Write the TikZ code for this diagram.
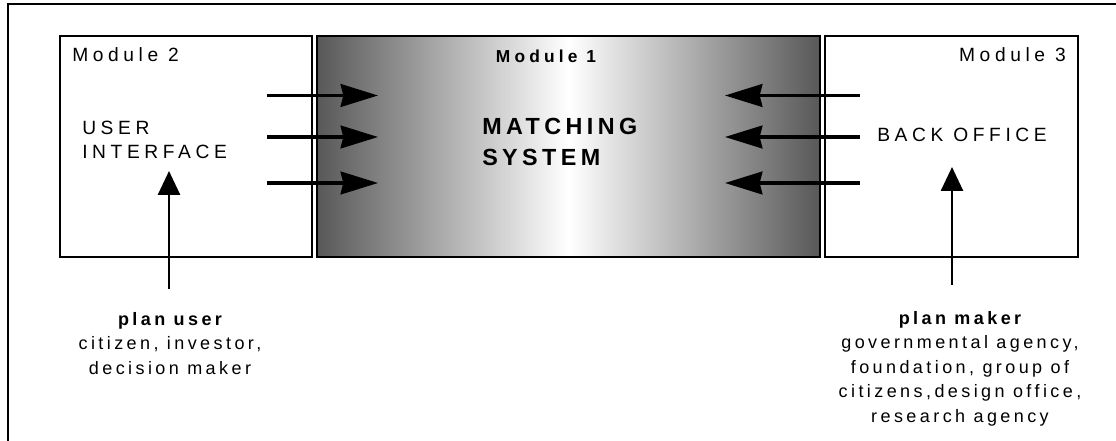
\documentclass[tikz,border=0pt]{standalone}
\usepackage{fontspec}
\setmainfont{Liberation Sans}
\newfontfamily\trackfont[LetterSpace=24]{Liberation Sans}
\newfontfamily\tightfont[LetterSpace=19]{Liberation Sans}
\usetikzlibrary{positioning, arrows.meta}
\definecolor{edgegray}{RGB}{88,88,88}

\begin{document}
\begin{tikzpicture}[
    x=0.75pt, y=-0.75pt,
    module/.style={draw, line width=1.4pt, inner sep=0pt, outer sep=0pt, minimum height=165.75pt},
    lbl/.style={inner sep=0pt, font=\trackfont\fontsize{14.4}{18.5}\selectfont},
    actor/.style={inner sep=0pt, align=center, font=\tightfont\fontsize{13.5}{18.4}\selectfont},
    big/.style={inner sep=0pt, align=left, font=\tightfont\bfseries\fontsize{17.5}{23.25}\selectfont},
    flow/.style={line width=2.6pt, -{Stealth[length=28pt, width=17pt, inset=2pt]}},
    lift/.style={line width=2pt, -{Triangle[length=18pt, width=16.5pt]}}
]
    \useasboundingbox (0,0) rectangle (1116,441);
    % outer frame (open at right and bottom)
    \draw[line width=1.5pt] (8,441) -- (8,4) -- (1116,4);

    % the three modules
    \node[module, minimum width=189pt] (ui) at (186,146.5) {};
    \node[module, minimum width=377.25pt, left color=edgegray, right color=edgegray, middle color=white] (match) at (568.5,146.5) {};
    \node[module, minimum width=189.75pt] (back) at (951.5,146.5) {};

    \node[lbl, anchor=base west] (uititle) at (72,62) {Module 2};
    \node[lbl, anchor=base, font=\trackfont\bfseries\fontsize{13}{18}\selectfont] (matchtitle) at (546,63) {Module 1};
    \node[lbl, anchor=base east] (backtitle) at (1066,62) {Module 3};

    \node[lbl, align=left, anchor=north west] (uitext) at (82,120.5) {USER\\INTERFACE};
    \node[big, anchor=north west] (matchtext) at (482,117.5) {MATCHING\\SYSTEM};
    \node[lbl, anchor=west] (backtext) at (877,134.5) {BACK OFFICE};

    % flows into the matching system
    \foreach \row/\y in {a/95.5, b/137, c/183} {
        \coordinate (ui\row) at (267,\y);
        \coordinate (mi\row) at (378,\y);
        \coordinate (bo\row) at (860,\y);
        \coordinate (mo\row) at (725,\y);
        \draw[flow] (ui\row) -- (mi\row);
        \draw[flow] (bo\row) -- (mo\row);
    }

    % actors
    \node[actor, anchor=north] (planuser) at (170,312) {{\bfseries plan user}\\citizen, investor,\\decision maker};
    \node[actor, anchor=north] (planmaker) at (960,311) {{\bfseries plan maker}\\governmental agency,\\foundation, group of\\citizens,design office,\\research agency};

    \coordinate (userfoot) at (169,289);
    \coordinate (uitip) at (169,171);
    \coordinate (makerfoot) at (952,285);
    \coordinate (backtip) at (952,167);
    \draw[lift] (userfoot) -- (uitip);
    \draw[lift] (makerfoot) -- (backtip);
\end{tikzpicture}
\end{document}
